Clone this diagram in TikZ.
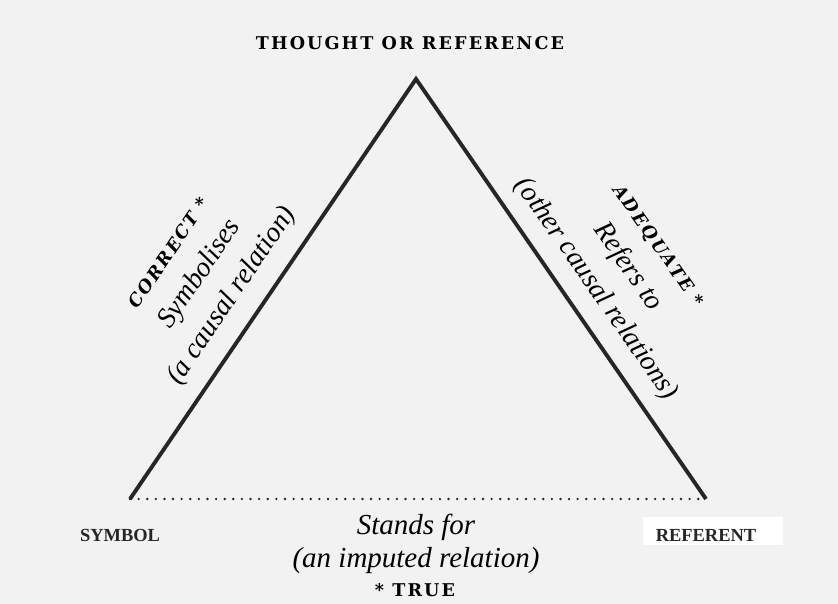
\documentclass[tikz,border=0pt]{standalone}
\usepackage{fontspec}
\usetikzlibrary{positioning}
\newfontfamily\slabfont[LetterSpace=12]{DejaVu Serif}
\newfontfamily\timesfont{Liberation Serif}

\begin{document}
\begin{tikzpicture}[x=0.02cm, y=-0.02cm,
  caps/.style={inner sep=1pt, font=\slabfont\bfseries\fontsize{10}{12}\selectfont},
  corner/.style={inner sep=2pt, text=black!85, font=\timesfont\bfseries\fontsize{10.5}{12}\selectfont},
  relation/.style={inner sep=1pt, font=\timesfont\itshape\fontsize{16}{22}\selectfont},
  side/.style={line width=2.2pt, draw=black!85},
  font=\footnotesize
]
% Page
\fill[black!5] (0,0) rectangle (838,604);
\useasboundingbox (0,0) rectangle (838,604);
\fill[white] (643,517) rectangle (783,545);

% Corners
\coordinate (apex) at (416,79);
\coordinate (lft) at (130,499);
\coordinate (rgt) at (706,499);
\node[caps] (thought) at (410,43) {THOUGHT OR REFERENCE};
\node[corner] (symbol) at (120,535) {SYMBOL};
\node[corner] (referent) at (706,535) {REFERENT};

% Sides
\draw[side] (lft) -- (apex) -- (rgt);
\draw[line width=1.5pt, line cap=round, dash pattern=on 0pt off 4.9pt, black!85] (lft) -- (rgt);

% Left side
\node[relation, rotate=56, align=center] (symbolises) at (203,276)
  {{\slabfont\bfseries\fontsize{10}{12}\selectfont CORRECT *}\\ Symbolises\\ (a causal relation)};

% Right side
\node[relation, rotate=-55, align=center] (refers) at (625,269)
  {{\slabfont\bfseries\fontsize{10}{12}\selectfont ADEQUATE *}\\ Refers to\\ (other causal relations)};

% Base
\node[relation, align=center, font=\timesfont\itshape\fontsize{16.5}{19}\selectfont] (stands) at (416,544) {Stands for\\ (an imputed relation)};
\node[caps] (true) at (415,590) {* TRUE};
\end{tikzpicture}
\end{document}
